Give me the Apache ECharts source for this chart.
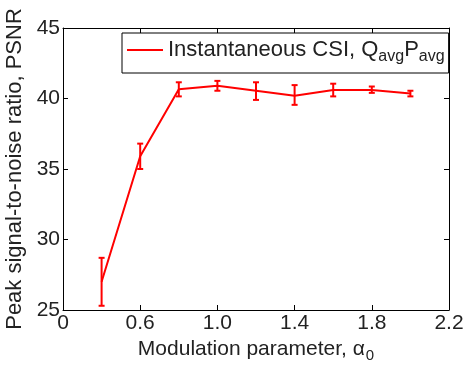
<!DOCTYPE html>
<html><head><meta charset="utf-8">
<script src="https://cdn.jsdelivr.net/npm/echarts@6/dist/echarts.min.js"></script>
<style>html,body{margin:0;padding:0;background:#fff}#c{width:464px;height:365px}</style>
</head><body><div id="c"></div>
<script>
var alpha = [0.4, 0.6, 0.8, 1.0, 1.2, 1.4, 1.6, 1.8, 2.0];
var psnr = [27.0, 35.9, 40.65, 40.9, 40.55, 40.2, 40.6, 40.6, 40.35];
var psnrLow = [25.3, 35.0, 40.15, 40.55, 39.9, 39.55, 40.15, 40.4, 40.15];
var psnrHigh = [28.7, 36.8, 41.15, 41.25, 41.15, 40.95, 41.05, 40.85, 40.55];
var xTickValues = [0.2, 0.6, 1.0, 1.4, 1.8, 2.2];
var xTickLabels = ['0', '0.6', '1.0', '1.4', '1.8', '2.2'];
var yTicks = [25, 30, 35, 40, 45];

var font = 'Liberation Sans, Arial, sans-serif';
var lineData = alpha.map(function (a, i) { return [a, psnr[i]]; });
var errData = alpha.map(function (a, i) { return [a, psnrLow[i], psnrHigh[i]]; });

var chart = echarts.init(document.getElementById('c'));
var xLabelFmt = function (v) {
  for (var i = 0; i < xTickValues.length; i++) if (Math.abs(xTickValues[i] - v) < 1e-6) return xTickLabels[i];
  return '';
};
chart.setOption({
  animation: false,
  grid: { left: 63, right: 15, top: 28, bottom: 55, outerBoundsMode: 'none', containLabel: false },
  xAxis: [{
    type: 'value', min: 0.2, max: 2.2,
    name: 'Modulation parameter, {a|α}{s|0}', nameLocation: 'middle', nameGap: 24,
    nameTextStyle: { fontFamily: font, fontSize: 21, color: '#222', verticalAlign: 'top',
      rich: { a: { fontFamily: font, fontSize: 21, color: '#222' },
              s: { fontFamily: font, fontSize: 15, color: '#222', verticalAlign: 'bottom', padding: [12, 0, 0, 1] } } },
    axisLine: { lineStyle: { color: '#000', width: 1 } },
    axisTick: { inside: true, length: 5, customValues: xTickValues, lineStyle: { color: '#000' } },
    axisLabel: { customValues: xTickValues, formatter: xLabelFmt, fontFamily: font, fontSize: 21, color: '#222', margin: 3 },
    splitLine: { show: false }
  }, {
    type: 'value', min: 0.2, max: 2.2, position: 'top',
    axisLine: { show: true, lineStyle: { color: '#000', width: 1 } },
    axisTick: { inside: true, length: 5, customValues: xTickValues, lineStyle: { color: '#000' } },
    axisLabel: { show: false }, splitLine: { show: false }
  }],
  yAxis: [{
    type: 'value', min: 25, max: 45, interval: 5,
    name: 'Peak signal-to-noise ratio, PSNR', nameLocation: 'middle', nameGap: 25,
    nameTextStyle: { fontFamily: font, fontSize: 22, color: '#222' },
    axisLine: { show: true, lineStyle: { color: '#000', width: 1 } },
    axisTick: { inside: true, length: 5, lineStyle: { color: '#000' } },
    axisLabel: { fontFamily: font, fontSize: 21, color: '#222', margin: 3 },
    splitLine: { show: false }
  }, {
    type: 'value', min: 25, max: 45, interval: 5, position: 'right',
    axisLine: { show: true, lineStyle: { color: '#000', width: 1 } },
    axisTick: { inside: true, length: 5, lineStyle: { color: '#000' } },
    axisLabel: { show: false }, splitLine: { show: false }
  }],
  legend: {
    left: 122, top: 33,
    padding: [6, 4, 8, 5],
    borderColor: '#000', borderWidth: 1, backgroundColor: '#fff',
    itemWidth: 36, itemHeight: 2, itemGap: 4,
    icon: 'rect',
    data: [{ name: 'psnr' }],
    formatter: function () { return 'Instantaneous CSI, Q{s|avg}P{s|avg}'; },
    textStyle: { fontFamily: font, fontSize: 22, color: '#222',
      rich: { s: { fontFamily: font, fontSize: 16, color: '#222', verticalAlign: 'bottom', padding: [14, 0, 0, 0] } } }
  },
  series: [{
    name: 'psnr', type: 'line', data: lineData, symbol: 'none',
    lineStyle: { color: '#ff0000', width: 2 }, itemStyle: { color: '#ff0000' }, z: 3
  }, {
    name: 'err', type: 'custom', data: errData, z: 4,
    renderItem: function (params, api) {
      var x = api.value(0);
      var lo = api.coord([x, api.value(1)]);
      var hi = api.coord([x, api.value(2)]);
      var w = 3;
      var st = { stroke: '#ff0000', lineWidth: 2 };
      return { type: 'group', children: [
        { type: 'line', shape: { x1: lo[0], y1: lo[1], x2: hi[0], y2: hi[1] }, style: st },
        { type: 'line', shape: { x1: lo[0] - w, y1: lo[1], x2: lo[0] + w, y2: lo[1] }, style: st },
        { type: 'line', shape: { x1: hi[0] - w, y1: hi[1], x2: hi[0] + w, y2: hi[1] }, style: st }
      ] };
    }
  }]
});
</script></body></html>
